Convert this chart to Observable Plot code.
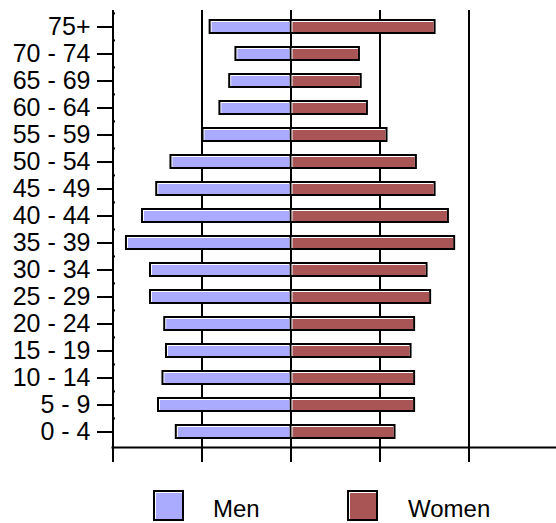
<!DOCTYPE html>
<html><head><meta charset="utf-8">
<script src="https://cdn.jsdelivr.net/npm/d3@7"></script>
<script src="https://cdn.jsdelivr.net/npm/@observablehq/plot@0.6"></script>
<style>
html,body{margin:0;padding:0;background:#fff;}
#wrap{position:relative;width:556px;height:523px;overflow:hidden;font-family:"Liberation Sans",Arial,sans-serif;}
#chart{position:absolute;left:0;top:0;}
.sw{position:absolute;top:490px;width:31px;height:31px;box-sizing:border-box;border:2px solid #000;box-shadow:inset 1px 1px 0 #fff;}
.lab{position:absolute;top:497px;font-size:24px;line-height:24px;color:#000;white-space:nowrap;}
</style></head>
<body>
<div id="wrap">
  <div id="chart"></div>
  <div id="legend"></div>
</div>
<script>
const ageGroups = ["75+","70 - 74","65 - 69","60 - 64","55 - 59","50 - 54","45 - 49","40 - 44","35 - 39","30 - 34","25 - 29","20 - 24","15 - 19","10 - 14","5 - 9","0 - 4"];
const men   = [0.92,0.63,0.70,0.81,1.00,1.36,1.52,1.68,1.86,1.59,1.59,1.43,1.41,1.45,1.50,1.30];
const women = [1.63,0.78,0.80,0.87,1.09,1.42,1.63,1.78,1.85,1.54,1.58,1.40,1.36,1.40,1.40,1.18];
const xTicks = [-2,-1,0,1,2];
const seriesNames = ["Men","Women"];
const seriesColors = ["#aaaaff","#aa5555"];

const rows = ageGroups.map((g,i)=>({age:g, men:men[i], women:women[i]}));
const mx = d => -d.men;
const wx = d => d.women;

const chart = Plot.plot({
  width: 556,
  height: 470,
  marginTop: 10,
  marginBottom: 23,
  marginLeft: 112,
  marginRight: 0,
  style: {fontFamily: "'Liberation Sans', Arial, sans-serif", color: "#000", background: "#fff", overflow: "visible"},
  x: {domain: [-2, 3], range: [112.5, 557.5], label: null},
  y: {domain: ageGroups, range: [10, 447], paddingInner: 0.46, paddingOuter: 0.24, label: null},
  marks: [
    Plot.ruleX(xTicks, {stroke: "#000", strokeWidth: 2}),
    // men bars
    Plot.barX(rows, {y: "age", x1: 0, x2: mx, fill: "#000"}),
    Plot.barX(rows, {y: "age", x1: 0, x2: mx, fill: "#fff", insetTop: 2, insetBottom: 2, insetLeft: 2, insetRight: 1}),
    Plot.barX(rows, {y: "age", x1: 0, x2: mx, fill: seriesColors[0], insetTop: 3, insetBottom: 2, insetLeft: 3, insetRight: 1}),
    // women bars
    Plot.barX(rows, {y: "age", x1: 0, x2: wx, fill: "#000"}),
    Plot.barX(rows, {y: "age", x1: 0, x2: wx, fill: "#fff", insetTop: 2, insetBottom: 2, insetLeft: 1, insetRight: 2}),
    Plot.barX(rows, {y: "age", x1: 0, x2: wx, fill: seriesColors[1], insetTop: 3, insetBottom: 2, insetLeft: 2, insetRight: 2}),
    Plot.axisX({ticks: xTicks, tickSize: 15, strokeWidth: 2, tickFormat: () => "", label: null}),
    Plot.frame({anchor: "bottom", stroke: "#000", strokeWidth: 2}),
    Plot.axisY({tickSize: 15, tickPadding: 7, strokeWidth: 2, fontSize: 25, label: null}),
    Plot.axisY({tickSize: -3, strokeWidth: 2, dy: -13.6, tickFormat: () => "", label: null})
  ]
});
document.getElementById("chart").appendChild(chart);

const legend = document.getElementById("legend");
const swX = [153, 347];
const labX = [213, 408];
seriesNames.forEach((name, i) => {
  const sw = document.createElement("div");
  sw.className = "sw";
  sw.style.left = swX[i] + "px";
  sw.style.background = seriesColors[i];
  legend.appendChild(sw);
  const lab = document.createElement("div");
  lab.className = "lab";
  lab.style.left = labX[i] + "px";
  lab.textContent = name;
  legend.appendChild(lab);
});
</script>
</body></html>
